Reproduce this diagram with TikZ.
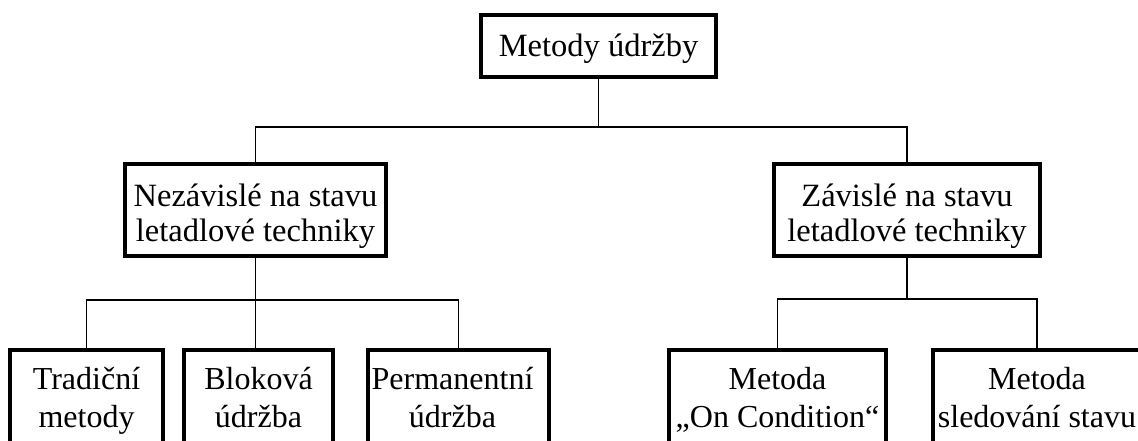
\documentclass[tikz,border=0pt]{standalone}
\usepackage{fontspec}
\setmainfont{Liberation Serif}
\tikzset{
  box/.style={draw, line width=4pt, inner sep=0pt, align=center},
  midfont/.style={font=\fontsize{32.5}{35}\selectfont},
  lowfont/.style={font=\fontsize{32}{38}\selectfont},
  conn/.style={line width=1.3pt}
}
\newcommand{\tp}[1]{\rule{0pt}{#1pt}}
\newcommand{\bt}[1]{\rule[-#1pt]{0pt}{#1pt}}
\begin{document}
\begin{tikzpicture}[x=1pt,y=-1pt]
\useasboundingbox (0,0) rectangle (1138,441);
\clip (0,0) rectangle (1138,441);
% boxes
\node[box, midfont, minimum width=235pt, minimum height=62pt] (top) at (598.5,46) {\tp{30}Metody údržby\bt{8}};
\node[box, midfont, minimum width=261pt, minimum height=91.5pt] (midL) at (255.5,210) {\tp{35}Nezávislé na stavu\\letadlové techniky\bt{8}};
\node[box, midfont, minimum width=266pt, minimum height=92pt] (midR) at (907,210) {\tp{35}Závislé na stavu\\letadlové techniky\bt{8}};
\node[box, lowfont, minimum width=153pt, minimum height=102pt] (b1) at (86.5,401) {\tp{25}Tradiční\\metody\bt{11}};
\node[box, lowfont, minimum width=149pt, minimum height=102pt] (b2) at (258.5,401) {\tp{25}Bloková\\údržba\bt{11}};
\node[box, lowfont, minimum width=181pt, minimum height=102pt] (b3) at (458.5,401) {\tp{25}Permanentní\hspace*{12pt}\\údržba\hspace*{12pt}\bt{11}};
\node[box, lowfont, minimum width=217pt, minimum height=102pt] (b4) at (777.5,401) {\tp{25}Metoda\\„On Condition“\bt{11}};
\node[box, lowfont, minimum width=208pt, minimum height=102pt] (b5) at (1037,401) {\tp{25}Metoda\\sledování stavu\bt{11}};
% junction levels
\coordinate (bar1) at (0,127);
\coordinate (bar2) at (0,300);
\coordinate (bar3) at (0,299);
% connectors
\draw[conn] (top.south) -- (top.south |- bar1);
\draw[conn] (midL.north) -- (midL.north |- bar1) -| (midR.north);
\draw[conn] (midL.south) -- (midL.south |- b2.north);
\draw[conn] (b1.north) -- (b1.north |- bar2) -| (b3.north);
\draw[conn] (midR.south) -- (midR.south |- bar3);
\draw[conn] (b4.north) -- (b4.north |- bar3) -| (b5.north);
\end{tikzpicture}
\end{document}
